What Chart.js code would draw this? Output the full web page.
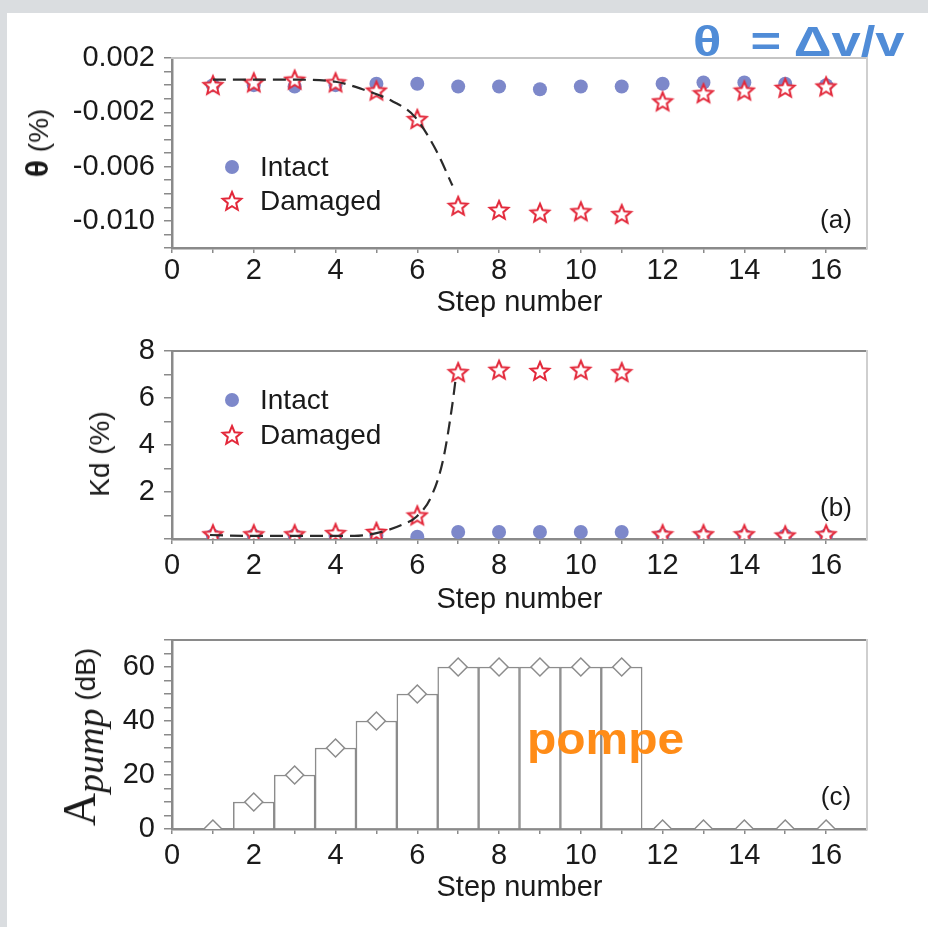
<!DOCTYPE html>
<html>
<head>
<meta charset="utf-8">
<script src="https://cdn.jsdelivr.net/npm/chart.js@4.4.1/dist/chart.umd.min.js"></script>
<style>
  html, body { margin:0; padding:0; background:#fff; }
  #wrap { position:relative; width:928px; height:927px; overflow:hidden; background:#fff;
          font-family:'Liberation Sans', Arial, sans-serif; color:#1a1a1a; }
  .strip-top { position:absolute; left:0; top:0; width:928px; height:13px; background:#dadde0; }
  .strip-left { position:absolute; left:0; top:0; width:7px; height:927px; background:#dadde0; }
  canvas { position:absolute; left:0; }
  .t { position:absolute; white-space:pre; line-height:1; z-index:5; }
  .rot { transform:translate(-50%,-50%) rotate(-90deg); }
  .lc { transform:translate(0,-50%); }
  .cc { transform:translate(-50%,-50%); }
</style>
</head>
<body>
<div id="wrap">
  <div class="strip-top"></div>
  <div class="strip-left"></div>
  <canvas id="cA" width="928" height="320" style="top:0px"></canvas>
  <canvas id="cB" width="928" height="300" style="top:320px"></canvas>
  <canvas id="cC" width="928" height="307" style="top:620px"></canvas>

  <div class="t" style="left:693px;top:42px;transform-origin:0 50%;transform:translate(0,-50%) scaleX(1.25);font:bold 42px 'Liberation Sans',Arial,sans-serif;color:#508cd7">θ  = Δv/v</div>
  <div class="t" style="left:527px;top:739px;transform-origin:0 50%;transform:translate(0,-50%) scaleX(1.09);font:bold 44px 'Liberation Sans',Arial,sans-serif;color:#ff8c17">pompe</div>

  <div class="t rot" style="left:37px;top:143px;font-size:28px"><b style="font-size:32px">θ</b> (%)</div>
  <div class="t rot" style="left:100px;top:454px;font-size:28px">Kd (%)</div>
  <div class="t rot" style="left:80px;top:737px;font-size:28px"><span style="font-family:'Liberation Serif',serif;font-size:46px">A</span><span style="font-family:'Liberation Serif',serif;font-style:italic;font-size:38px;position:relative;top:8px">pump</span> (dB)</div>

  <div class="t lc" style="left:260px;top:167px;font-size:28px">Intact</div>
  <div class="t lc" style="left:260px;top:201px;font-size:28px">Damaged</div>
  <div class="t lc" style="left:260px;top:400px;font-size:28px">Intact</div>
  <div class="t lc" style="left:260px;top:435px;font-size:28px">Damaged</div>

  <div class="t cc" style="left:836px;top:219px;font-size:26px">(a)</div>
  <div class="t cc" style="left:836px;top:507px;font-size:26px">(b)</div>
  <div class="t cc" style="left:836px;top:796px;font-size:26px">(c)</div>
</div>

<script>
// ---------------- DATA ----------------
const steps = [1,2,3,4,5,6,7,8,9,10,11,12,13,14,15,16];

// panel (a): theta (%)
const thetaIntact  = [0.0000,0.0000,-0.0001,0.0000,0.0001,0.0001,-0.0001,-0.0001,-0.0003,-0.0001,-0.0001,0.0001,0.0002,0.0002,0.0001,0.0000];
const thetaDamaged = [0.0000,0.0002,0.0004,0.0002,-0.0004,-0.0025,-0.0089,-0.0092,-0.0094,-0.0093,-0.0095,-0.0012,-0.0006,-0.0004,-0.0002,-0.0001];
const thetaFitX = [1.0, 2.0, 3.0, 4.0, 4.6, 5.4, 5.93, 6.46, 6.86];
const thetaFitY = [0.0004, 0.0004, 0.0004, 0.00025, -0.00024, -0.0012, -0.0023, -0.0048, -0.0074];

// panel (b): Kd (%)
const kdIntact  = [0.15,0.15,0.15,0.15,0.15,0.1,0.3,0.3,0.3,0.3,0.3,0.15,0.15,0.15,0.15,0.15];
const kdDamaged = [0.2,0.2,0.2,0.25,0.3,1.0,7.1,7.2,7.15,7.2,7.1,0.2,0.2,0.2,0.15,0.2];
const kdFitX = [0.93, 2, 3, 4, 4.46, 5, 5.62, 5.98, 6.34, 6.63, 6.85, 6.95];
const kdFitY = [0.17, 0.13, 0.13, 0.13, 0.13, 0.25, 0.6, 0.95, 1.8, 3.36, 5.63, 6.98];

// panel (c): A_pump (dB)
const pumpDb = [0,10,20,30,40,50,60,60,60,60,60,0,0,0,0,0];

// ticks
const stepTickValues = [0,1,2,3,4,5,6,7,8,9,10,11,12,13,14,15,16];
const stepTickLabels = ['0','','2','','4','','6','','8','','10','','12','','14','','16'];
const thetaTickValues = [0.002,0.001,0,-0.001,-0.002,-0.003,-0.004,-0.005,-0.006,-0.007,-0.008,-0.009,-0.010,-0.011,-0.012];
const thetaTickLabels = ['0.002','','','','-0.002','','','','-0.006','','','','-0.010','',''];
const kdTickValues = [0,1,2,3,4,5,6,7,8];
const kdTickLabels = ['','','2','','4','','6','','8'];
const pumpTickValues = [0,5,10,15,20,25,30,35,40,45,50,55,60,65,70];
const pumpTickLabels = ['0','','','','20','','','','40','','','','60','',''];

// ---------------- helpers ----------------
const pts = (xs, ys) => xs.map((x, i) => ({x: x, y: ys[i]}));

function makeStar() {
  const c = document.createElement('canvas');
  c.width = 24; c.height = 24;
  const g = c.getContext('2d');
  g.beginPath();
  for (let i = 0; i < 10; i++) {
    const r = (i % 2 === 0) ? 9.8 : 4.4;
    const a = -Math.PI / 2 + i * Math.PI / 5;
    const px = 12 + r * Math.cos(a), py = 12.8 + r * Math.sin(a);
    if (i) g.lineTo(px, py); else g.moveTo(px, py);
  }
  g.closePath();
  g.fillStyle = '#ffffff'; g.fill();
  g.lineWidth = 2; g.strokeStyle = '#e3283a'; g.stroke();
  return c;
}
const starImg = makeStar();
const INTACT_COLOR = '#7d88ca';
const AXIS_COLOR = '#8a8a8a';
const TEXT_COLOR = '#1a1a1a';

function xScale(o) {
  return {
    type: 'linear', min: 0, max: 17, offset: false,
    afterFit: s => { s.height = o.h; s.paddingLeft = 0; s.paddingRight = 0; s.paddingTop = 0; s.paddingBottom = 0; },
    afterBuildTicks: s => { s.ticks = stepTickValues.map(v => ({value: v})); },
    grid: { display: true, drawOnChartArea: false, drawTicks: true, tickLength: 5, color: AXIS_COLOR, lineWidth: 1.5, offset: false },
    border: { display: true, color: AXIS_COLOR, width: 2.5 },
    ticks: { autoSkip: false, maxRotation: 0, minRotation: 0, padding: o.tp, color: TEXT_COLOR,
             font: { size: 29, lineHeight: 1 },
             callback: (v) => { const i = stepTickValues.indexOf(v); return i >= 0 ? stepTickLabels[i] : ''; } },
    title: { display: true, text: 'Step number', color: TEXT_COLOR, font: { size: 29, lineHeight: 1 },
             padding: { top: 0, bottom: o.titlePad } }
  };
}
function yScale(o) {
  return {
    type: 'linear', min: o.min, max: o.max,
    afterFit: s => { s.width = 172; s.paddingLeft = 0; s.paddingRight = 0; s.paddingTop = 0; s.paddingBottom = 0; },
    afterBuildTicks: s => { s.ticks = o.values.map(v => ({value: v})); },
    grid: { display: true, drawOnChartArea: false, drawTicks: true, tickLength: 8, color: AXIS_COLOR, lineWidth: 1.5 },
    border: { display: true, color: AXIS_COLOR, width: 2.5 },
    ticks: { autoSkip: false, padding: 9, color: TEXT_COLOR, font: { size: 29, lineHeight: 1 },
             callback: (v) => { const i = o.values.findIndex(m => Math.abs(m - v) < 1e-9); return i >= 0 ? o.labels[i] : ''; } }
  };
}
function frameScales(topColor) {
  return {
    x2: { type: 'linear', position: 'top', display: true,
          afterFit: s => { s.height = 0; s.paddingLeft = 0; s.paddingRight = 0; s.paddingTop = 0; s.paddingBottom = 0; },
          grid: { display: false, drawTicks: false }, ticks: { display: false },
          border: { display: true, color: topColor, width: 2 } },
    y2: { type: 'linear', position: 'right', display: true,
          afterFit: s => { s.width = 0; s.paddingLeft = 0; s.paddingRight = 0; s.paddingTop = 0; s.paddingBottom = 0; },
          grid: { display: false, drawTicks: false }, ticks: { display: false },
          border: { display: true, color: '#cfcfcf', width: 2 } }
  };
}

// legend markers drawn with the datasets' own styles
const markerLegend = {
  id: 'markerLegend',
  afterDraw(chart, args, opts) {
    if (!opts || !opts.items) return;
    const ctx = chart.ctx;
    ctx.save();
    opts.items.forEach(it => {
      const ds = chart.data.datasets[it.ds];
      if (ds.pointStyle === 'circle') {
        ctx.beginPath();
        ctx.fillStyle = ds.backgroundColor;
        ctx.arc(it.x, it.y, ds.pointRadius, 0, Math.PI * 2);
        ctx.fill();
      } else {
        const img = ds.pointStyle;
        ctx.drawImage(img, it.x - img.width / 2, it.y - img.height / 2);
      }
    });
    ctx.restore();
  }
};

function common(padTop) {
  return {
    responsive: false, animation: false, devicePixelRatio: 1, events: [],
    layout: { padding: { left: 0, right: 61, top: padTop, bottom: 0 } },
    plugins: { legend: { display: false }, tooltip: { enabled: false } }
  };
}

Chart.defaults.font.family = "'Liberation Sans', Arial, sans-serif";
Chart.defaults.color = TEXT_COLOR;

function markerDatasets(intact, damaged, fitX, fitY) {
  return [
    { type: 'line', label: 'fit', data: pts(fitX, fitY), xAxisID: 'x', yAxisID: 'y',
      borderColor: '#2a2a2a', borderWidth: 2.2, borderDash: [13, 7], pointRadius: 0,
      cubicInterpolationMode: 'monotone', fill: false },
    { type: 'line', label: 'Damaged', data: pts(steps, damaged), xAxisID: 'x', yAxisID: 'y',
      showLine: false, pointStyle: starImg, pointRadius: 10, borderWidth: 0 },
    { type: 'line', label: 'Intact', data: pts(steps, intact), xAxisID: 'x', yAxisID: 'y',
      showLine: false, pointStyle: 'circle', pointRadius: 7, backgroundColor: INTACT_COLOR,
      borderColor: INTACT_COLOR, borderWidth: 0 }
  ];
}

// ---------------- chart (a) ----------------
const optA = common(58);
optA.scales = Object.assign({
  x: xScale({ h: 72, tp: 3, titlePad: 3 }),
  y: yScale({ min: -0.012, max: 0.002, values: thetaTickValues, labels: thetaTickLabels })
}, frameScales('#c4c4c4'));
optA.plugins.markerLegend = { items: [ { ds: 2, x: 232, y: 167 }, { ds: 1, x: 232, y: 201 } ] };
new Chart(document.getElementById('cA'), {
  type: 'line',
  data: { datasets: markerDatasets(thetaIntact, thetaDamaged, thetaFitX, thetaFitY) },
  options: optA,
  plugins: [markerLegend]
});

// ---------------- chart (b) ----------------
const optB = common(31);
optB.scales = Object.assign({
  x: xScale({ h: 81, tp: 7, titlePad: 6 }),
  y: yScale({ min: 0, max: 8, values: kdTickValues, labels: kdTickLabels })
}, frameScales('#8a8a8a'));
optB.plugins.markerLegend = { items: [ { ds: 2, x: 232, y: 80 }, { ds: 1, x: 232, y: 115 } ] };
new Chart(document.getElementById('cB'), {
  type: 'line',
  data: { datasets: markerDatasets(kdIntact, kdDamaged, kdFitX, kdFitY) },
  options: optB,
  plugins: [markerLegend]
});

// ---------------- chart (c) ----------------
const optC = common(20);
optC.scales = Object.assign({
  x: xScale({ h: 98, tp: 7, titlePad: 25 }),
  y: yScale({ min: 0, max: 70, values: pumpTickValues, labels: pumpTickLabels })
}, frameScales('#8a8a8a'));
new Chart(document.getElementById('cC'), {
  type: 'bar',
  data: { datasets: [
    { type: 'scatter', label: 'pump', data: pts(steps, pumpDb), xAxisID: 'x', yAxisID: 'y',
      pointStyle: 'rectRot', pointRadius: 9, backgroundColor: '#ffffff', borderColor: '#8c8c8c', borderWidth: 1.5 },
    { type: 'bar', label: 'pump bars', data: pts(steps, pumpDb), xAxisID: 'x', yAxisID: 'y',
      backgroundColor: '#ffffff', borderColor: '#8c8c8c', borderWidth: 1.5,
      categoryPercentage: 1, barPercentage: 1, borderSkipped: 'start' }
  ] },
  options: optC
});
</script>
</body>
</html>
